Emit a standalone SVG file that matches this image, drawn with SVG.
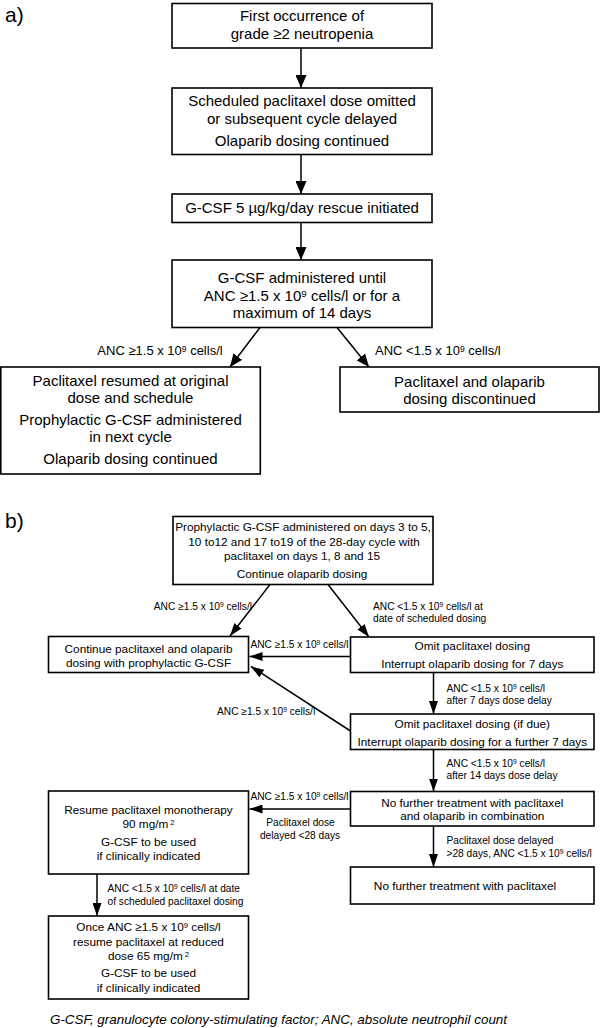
<svg xmlns="http://www.w3.org/2000/svg" width="600" height="1028" viewBox="0 0 600 1028">
<style>
text{font-family:"Liberation Sans",Arial,Helvetica,sans-serif;fill:#000}
.box{fill:#fff;stroke:#000;stroke-width:1.6}
.ln{stroke:#000;stroke-width:1.5;fill:none}
.a{font-size:15px;text-anchor:middle}
.al{font-size:13px}
.b{font-size:11.8px;text-anchor:middle}
.bl{font-size:10.2px}
.mid{text-anchor:middle}
.end{text-anchor:end}
.hd{font-size:21px}
.cap{font-size:13.4px;font-style:italic}
.sup{font-size:65%;baseline-shift:40%}
</style>
<defs>
<marker id="ha" markerUnits="userSpaceOnUse" markerWidth="13" markerHeight="11" viewBox="0 0 13 11" refX="13" refY="5.5" orient="auto"><path d="M0,0 L13,5.5 L0,11 z" fill="#000"/></marker>
<marker id="hb" markerUnits="userSpaceOnUse" markerWidth="13" markerHeight="9" viewBox="0 0 13 9" refX="13" refY="4.5" orient="auto"><path d="M0,0 L13,4.5 L0,9 z" fill="#000"/></marker>
</defs>
<rect width="600" height="1028" fill="#fff"/>
<text class="hd" x="5" y="22">a)</text>
<text class="hd" x="5" y="527.5">b)</text>

<g id="connectors">
<line class="ln" x1="301" y1="48" x2="301" y2="88" marker-end="url(#ha)"/>
<line class="ln" x1="301" y1="154.5" x2="301" y2="194" marker-end="url(#ha)"/>
<line class="ln" x1="301" y1="222.5" x2="301" y2="260" marker-end="url(#ha)"/>
<line class="ln" x1="260" y1="327.5" x2="230" y2="367" marker-end="url(#ha)"/>
<line class="ln" x1="337" y1="327.5" x2="369" y2="367" marker-end="url(#ha)"/>
<text class="al mid" x="160" y="354.5">ANC ≥1.5 x 10<tspan class="sup">9</tspan> cells/l</text>
<text class="al" x="375" y="354.5">ANC &lt;1.5 x 10<tspan class="sup">9</tspan> cells/l</text>

<line class="ln" x1="270" y1="584.5" x2="230" y2="636" marker-end="url(#hb)"/>
<line class="ln" x1="328" y1="584.5" x2="369" y2="637" marker-end="url(#hb)"/>
<line class="ln" x1="350.5" y1="656.5" x2="249.5" y2="656.5" marker-end="url(#hb)"/>
<line class="ln" x1="433.5" y1="672.5" x2="433.5" y2="714" marker-end="url(#hb)"/>
<line class="ln" x1="350.5" y1="731" x2="251" y2="666.5" marker-end="url(#hb)"/>
<line class="ln" x1="433.5" y1="749.5" x2="433.5" y2="791.5" marker-end="url(#hb)"/>
<line class="ln" x1="350.5" y1="809" x2="249.5" y2="809" marker-end="url(#hb)"/>
<line class="ln" x1="433.5" y1="826" x2="433.5" y2="867" marker-end="url(#hb)"/>
<line class="ln" x1="97" y1="874" x2="97" y2="916" marker-end="url(#hb)"/>

<text class="bl end" x="252" y="609.5">ANC ≥1.5 x 10<tspan class="sup">9</tspan> cells/l</text>
<text class="bl" x="373" y="609.5">ANC &lt;1.5 x 10<tspan class="sup">9</tspan> cells/l at</text>
<text class="bl" x="373" y="621.5">date of scheduled dosing</text>
<text class="bl mid" x="299.5" y="647.5">ANC ≥1.5 x 10<tspan class="sup">9</tspan> cells/l</text>
<text class="bl" x="217" y="715">ANC ≥1.5 x 10<tspan class="sup">9</tspan> cells/l</text>
<text class="bl" x="446.5" y="692">ANC &lt;1.5 x 10<tspan class="sup">9</tspan> cells/l</text>
<text class="bl" x="446.5" y="703.5">after 7 days dose delay</text>
<text class="bl" x="446.5" y="766.5">ANC &lt;1.5 x 10<tspan class="sup">9</tspan> cells/l</text>
<text class="bl" x="446.5" y="778.5">after 14 days dose delay</text>
<text class="bl mid" x="299.5" y="800">ANC ≥1.5 x 10<tspan class="sup">9</tspan> cells/l</text>
<text class="bl mid" x="300.5" y="826">Paclitaxel dose</text>
<text class="bl mid" x="300" y="838.5">delayed &lt;28 days</text>
<text class="bl" x="446.5" y="843.5">Paclitaxel dose delayed</text>
<text class="bl" x="446.5" y="856.5">&gt;28 days, ANC &lt;1.5 x 10<tspan class="sup">9</tspan> cells/l</text>
<text class="bl" x="107.5" y="892">ANC &lt;1.5 x 10<tspan class="sup">9</tspan> cells/l at date</text>
<text class="bl" x="107.5" y="904.5">of scheduled paclitaxel dosing</text>
</g>

<g id="a1">
<rect class="box" x="172" y="3.5" width="260" height="44.5"/>
<text class="a" x="302" y="21">First occurrence of</text>
<text class="a" x="302" y="38.5">grade ≥2 neutropenia</text>
</g>
<g id="a2">
<rect class="box" x="172" y="88" width="260" height="66.5"/>
<text class="a" x="302" y="105.5">Scheduled paclitaxel dose omitted</text>
<text class="a" x="302" y="123.5">or subsequent cycle delayed</text>
<text class="a" x="302" y="145.5">Olaparib dosing continued</text>
</g>
<g id="a3">
<rect class="box" x="172" y="194" width="260" height="28.5"/>
<text class="a" x="302" y="213">G-CSF 5 µg/kg/day rescue initiated</text>
</g>
<g id="a4">
<rect class="box" x="172" y="260" width="260" height="67.5"/>
<text class="a" x="302" y="282.5">G-CSF administered until</text>
<text class="a" x="302" y="300.5">ANC ≥1.5 x 10<tspan class="sup">9</tspan> cells/l or for a</text>
<text class="a" x="302" y="318">maximum of 14 days</text>
</g>
<g id="a5">
<rect class="box" x="0.8" y="367" width="259.5" height="107"/>
<text class="a" x="130.5" y="386">Paclitaxel resumed at original</text>
<text class="a" x="130.5" y="403">dose and schedule</text>
<text class="a" x="130.5" y="425">Prophylactic G-CSF administered</text>
<text class="a" x="130.5" y="442">in next cycle</text>
<text class="a" x="130.5" y="464">Olaparib dosing continued</text>
</g>
<g id="a6">
<rect class="box" x="340" y="367" width="259" height="45"/>
<text class="a" x="469.5" y="387">Paclitaxel and olaparib</text>
<text class="a" x="469.5" y="404">dosing discontinued</text>
</g>

<g id="b1">
<rect class="box" x="173" y="516.5" width="260" height="68"/>
<text class="b" x="303" y="531">Prophylactic G-CSF administered on days 3 to 5,</text>
<text class="b" x="304" y="546">10 to12 and 17 to19 of the 28-day cycle with</text>
<text class="b" x="302" y="560">paclitaxel on days 1, 8 and 15</text>
<text class="b" x="302" y="577.5">Continue olaparib dosing</text>
</g>
<g id="b2">
<rect class="box" x="48.5" y="636.5" width="200" height="36"/>
<text class="b" x="148.5" y="652.5">Continue paclitaxel and olaparib</text>
<text class="b" x="148.5" y="667">dosing with prophylactic G-CSF</text>
</g>
<g id="b3">
<rect class="box" x="350.5" y="637" width="243.5" height="35.5"/>
<text class="b" x="472.3" y="650">Omit paclitaxel dosing</text>
<text class="b" x="472.3" y="667.5">Interrupt olaparib dosing for 7 days</text>
</g>
<g id="b4">
<rect class="box" x="350.5" y="714" width="243.5" height="35.5"/>
<text class="b" x="472.3" y="727.5">Omit paclitaxel dosing (if due)</text>
<text class="b" x="472.3" y="746">Interrupt olaparib dosing for a further 7 days</text>
</g>
<g id="b5">
<rect class="box" x="350.5" y="791.5" width="243.5" height="34.5"/>
<text class="b" x="472.3" y="807">No further treatment with paclitaxel</text>
<text class="b" x="472.3" y="820">and olaparib in combination</text>
</g>
<g id="b6">
<rect class="box" x="350.5" y="867" width="243.5" height="37"/>
<text class="b" x="465" y="890">No further treatment with paclitaxel</text>
</g>
<g id="b7">
<rect class="box" x="48.5" y="791" width="200" height="83"/>
<text class="b" x="148.5" y="814">Resume paclitaxel monotherapy</text>
<text class="b" x="148.5" y="827.5">90 mg/m<tspan class="sup" dx="2">2</tspan></text>
<text class="b" x="148.5" y="846">G-CSF to be used</text>
<text class="b" x="148.5" y="860">if clinically indicated</text>
</g>
<g id="b8">
<rect class="box" x="48.5" y="916" width="200" height="83"/>
<text class="b" x="148.5" y="931">Once ANC ≥1.5 x 10<tspan class="sup">9</tspan> cells/l</text>
<text class="b" x="148.5" y="946">resume paclitaxel at reduced</text>
<text class="b" x="148.5" y="960">dose 65 mg/m<tspan class="sup" dx="2">2</tspan></text>
<text class="b" x="148.5" y="977">G-CSF to be used</text>
<text class="b" x="148.5" y="992">if clinically indicated</text>
</g>

<text class="cap" x="50" y="1024">G-CSF, granulocyte colony-stimulating factor; ANC, absolute neutrophil count</text>
</svg>
